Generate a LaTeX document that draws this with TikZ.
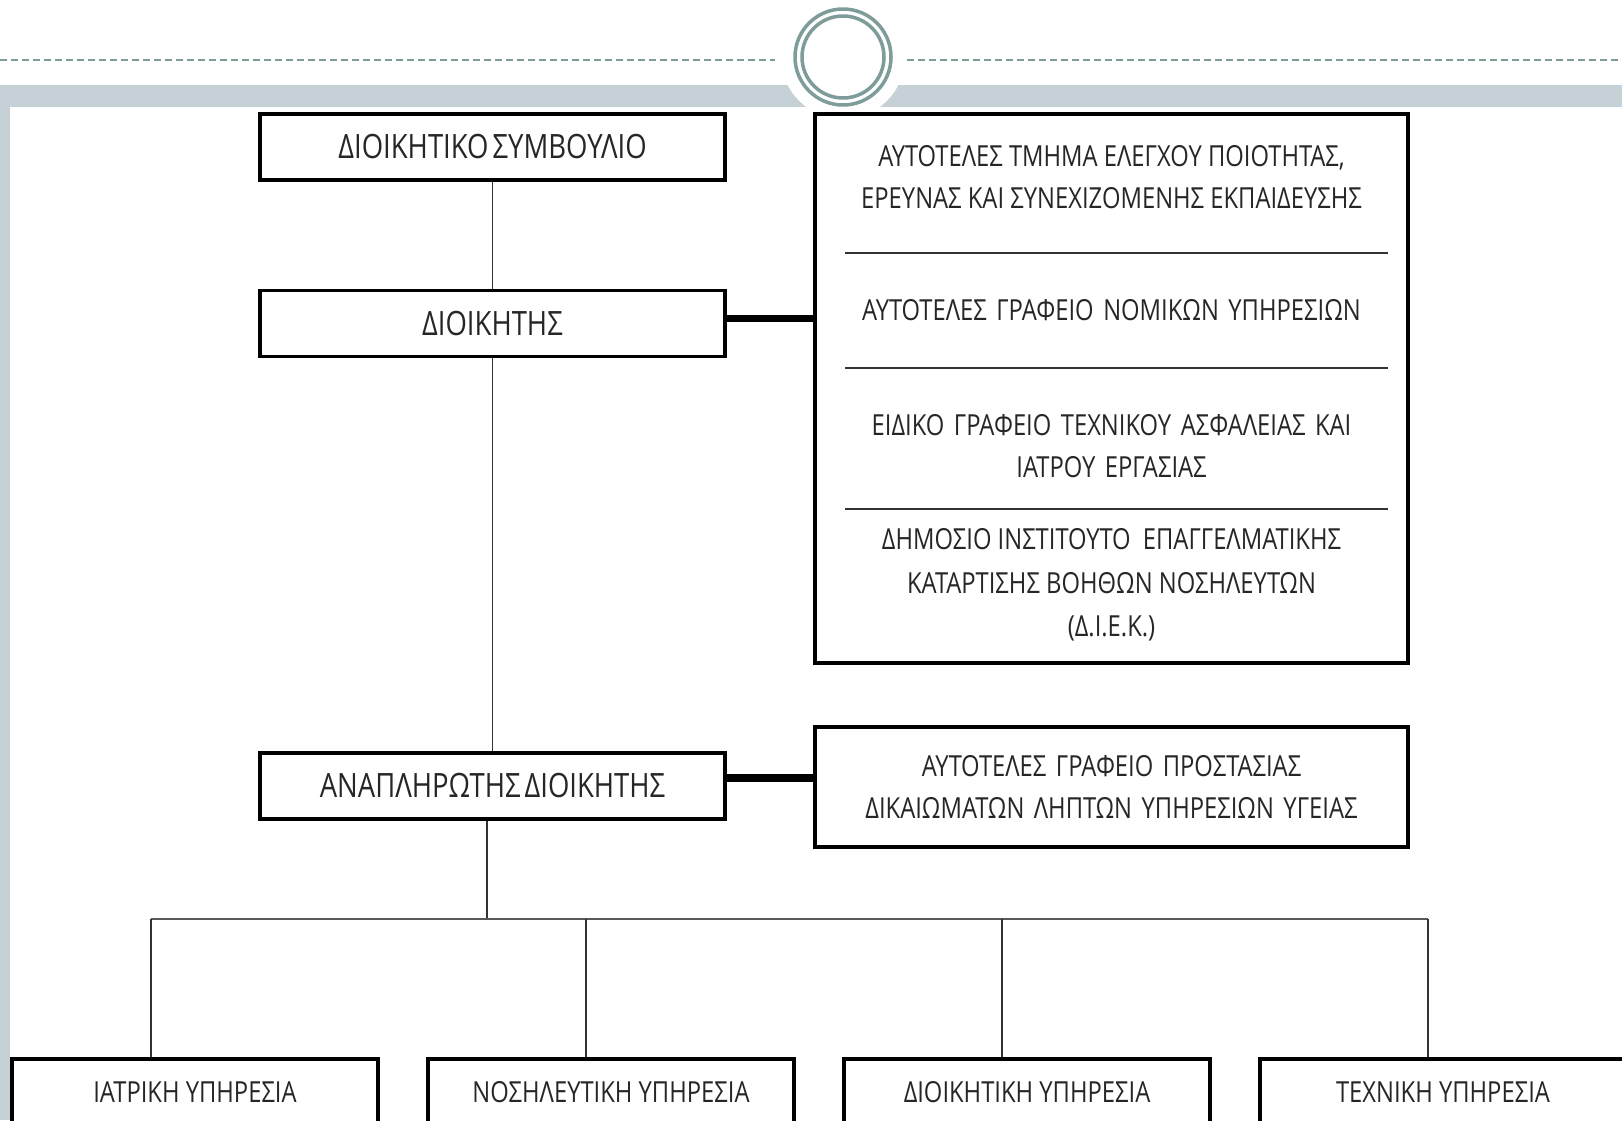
\documentclass[tikz,border=0pt]{standalone}
\usepackage{fontspec}
\setmainfont{Open Sans}[FakeStretch=0.82]
\usetikzlibrary{positioning}
\definecolor{rulegray}{HTML}{7E9C9A}
\definecolor{bandgray}{HTML}{C5D0D7}
\newcommand{\boxfont}{\fontsize{29}{42}\selectfont}
\newcommand{\widefont}{\fontsize{29}{42}\selectfont\spaceskip=9.5pt}
\newcommand{\headfont}{\fontsize{33.5}{42}\selectfont\spaceskip=4pt}
\tikzset{
	unitbox/.style={draw=black, line width=3.2pt, fill=white, inner sep=0pt, align=center, font=\boxfont, text=black!85, minimum height=66pt},
	headbox/.style={unitbox, minimum width=465pt, font=\headfont},
	servbox/.style={unitbox, minimum width=366pt},
	plaintext/.style={inner sep=0pt, align=center, font=\boxfont, text=black!85},
	link/.style={draw=black!80, line width=1.5pt},
	boldlink/.style={draw=black, line width=7.5pt},
	divider/.style={draw=black!80, line width=2pt}
}
\begin{document}
\begin{tikzpicture}[x=1pt, y=-1pt]
	\useasboundingbox (0,0) rectangle (1622,1120);
	\fill [white] (0,0) rectangle (1622,1120);
	\fill [bandgray] (0,85) rectangle (1622,107);
	\fill [bandgray] (0,85) rectangle (10,1120);
	\fill [white] (843,57) circle (62pt);
	\draw [rulegray, dash pattern=on 7pt off 4pt, line width=1.5pt] (0,60) -- (775,60);
	\draw [rulegray, dash pattern=on 7pt off 4pt, line width=1.5pt] (907,60) -- (1622,60);
	\draw [rulegray, line width=3.5pt] (843,57) circle (48pt);
	\draw [rulegray, line width=3.5pt] (843,57) circle (41pt);

	\node [headbox] (board) at (492.5,147) {ΔΙΟΙΚΗΤΙΚΟ ΣΥΜΒΟΥΛΙΟ};
	\node [headbox] (director) at (492.5,323.5) {ΔΙΟΙΚΗΤΗΣ};
	\node [headbox] (deputy) at (492.5,786) {ΑΝΑΠΛΗΡΩΤΗΣ ΔΙΟΙΚΗΤΗΣ};

	\node [unitbox, minimum width=593pt, minimum height=549pt] (offices) at (1111.5,388.5) {};
	\node [plaintext] (quality) at (1111.5,177) {ΑΥΤΟΤΕΛΕΣ ΤΜΗΜΑ ΕΛΕΓΧΟΥ ΠΟΙΟΤΗΤΑΣ,\\ΕΡΕΥΝΑΣ ΚΑΙ ΣΥΝΕΧΙΖΟΜΕΝΗΣ ΕΚΠΑΙΔΕΥΣΗΣ};
	\node [plaintext, font=\widefont] (legal) at (1111.5,310) {ΑΥΤΟΤΕΛΕΣ ΓΡΑΦΕΙΟ ΝΟΜΙΚΩΝ ΥΠΗΡΕΣΙΩΝ};
	\node [plaintext, font=\widefont] (safety) at (1111.5,446) {ΕΙΔΙΚΟ ΓΡΑΦΕΙΟ ΤΕΧΝΙΚΟΥ ΑΣΦΑΛΕΙΑΣ ΚΑΙ\\ΙΑΤΡΟΥ ΕΡΓΑΣΙΑΣ};
	\node [plaintext, font=\fontsize{29}{43.5}\selectfont] (diek) at (1111.5,585) {ΔΗΜΟΣΙΟ ΙΝΣΤΙΤΟΥΤΟ ~ΕΠΑΓΓΕΛΜΑΤΙΚΗΣ\\ΚΑΤΑΡΤΙΣΗΣ ΒΟΗΘΩΝ ΝΟΣΗΛΕΥΤΩΝ\\(Δ.Ι.Ε.Κ.)};
	\draw [divider] (845,253) -- (1388,253);
	\draw [divider] (845,368) -- (1388,368);
	\draw [divider] (845,509) -- (1388,509);

	\node [unitbox, minimum width=593pt, minimum height=120pt, font=\widefont] (rights) at (1111.5,787) {ΑΥΤΟΤΕΛΕΣ ΓΡΑΦΕΙΟ ΠΡΟΣΤΑΣΙΑΣ\\ΔΙΚΑΙΩΜΑΤΩΝ ΛΗΠΤΩΝ ΥΠΗΡΕΣΙΩΝ ΥΓΕΙΑΣ};

	\node [servbox] (medical) at (195,1092) {ΙΑΤΡΙΚΗ ΥΠΗΡΕΣΙΑ};
	\node [servbox] (nursing) at (611,1092) {ΝΟΣΗΛΕΥΤΙΚΗ ΥΠΗΡΕΣΙΑ};
	\node [servbox] (admin) at (1027,1092) {ΔΙΟΙΚΗΤΙΚΗ ΥΠΗΡΕΣΙΑ};
	\node [servbox] (technical) at (1443,1092) {ΤΕΧΝΙΚΗ ΥΠΗΡΕΣΙΑ};

	\draw [link] (board) -- (director);
	\draw [link] (director) -- (deputy);
	\draw [boldlink] ([yshift=5pt]director.east) -- ([yshift=5pt]director.east -| offices.west);
	\draw [boldlink] ([yshift=8pt]deputy.east) -- ([yshift=8pt]deputy.east -| rights.west);

	\coordinate (hub) at (487,919);
	\coordinate (bus1) at (151,919);
	\coordinate (bus2) at (586,919);
	\coordinate (bus3) at (1002,919);
	\coordinate (bus4) at (1428,919);
	\draw [link] (hub |- deputy.south) -- (hub);
	\draw [link, draw=black!65, line width=2.2pt] (bus1) -- (bus4);
	\draw [link] (bus1) -- (bus1 |- medical.north);
	\draw [link] (bus2) -- (bus2 |- nursing.north);
	\draw [link] (bus3) -- (bus3 |- admin.north);
	\draw [link] (bus4) -- (bus4 |- technical.north);
\end{tikzpicture}
\end{document}
